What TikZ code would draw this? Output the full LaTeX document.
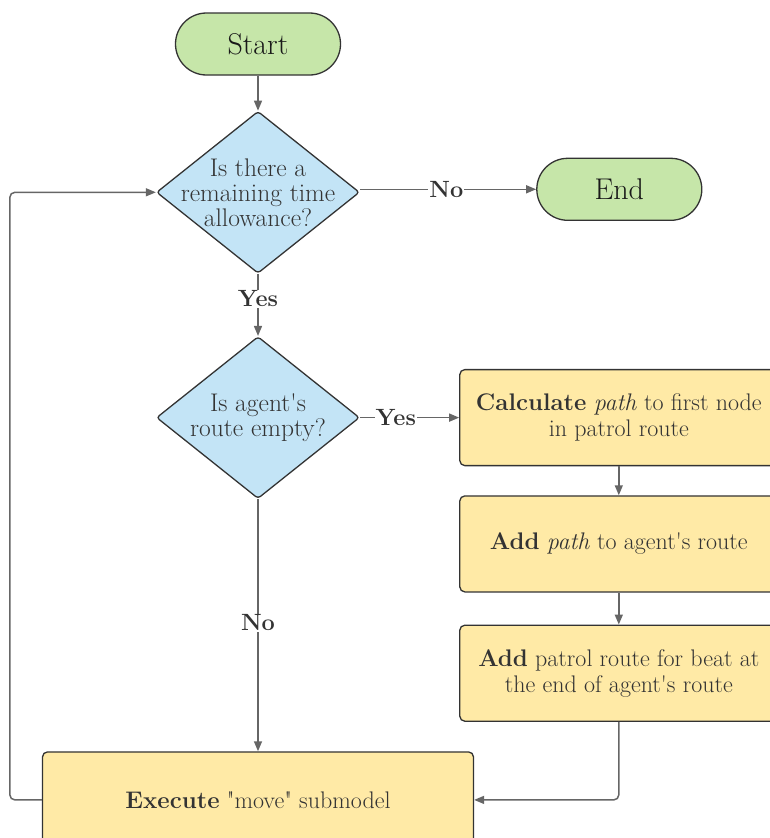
\documentclass[tikz,border=0pt]{standalone}
\usetikzlibrary{arrows.meta,positioning,shapes.geometric}
\definecolor{termgreen}{HTML}{C6E6A9}
\definecolor{qblue}{HTML}{C3E4F6}
\definecolor{procyellow}{HTML}{FFEAA6}
\definecolor{txtgray}{HTML}{333333}
\definecolor{edgegray}{HTML}{333333}
\definecolor{linegray}{HTML}{666666}
\newcommand{\apo}{\textquotesingle}

\begin{document}
\begin{tikzpicture}[
  x=1pt, y=1pt,
  every node/.style={align=center, text=txtgray,
                     font=\fontsize{24}{26}\selectfont},
  term/.style={draw=edgegray, fill=termgreen, line width=1.3pt,
               rounded corners=31pt, minimum width=165pt, minimum height=62pt,
               font=\fontsize{30}{30}\selectfont, text=black!90},
  decision/.style={diamond, draw=edgegray, fill=qblue, line width=1.3pt,
                   rounded corners=3pt, minimum width=203pt,
                   minimum height=162pt, inner sep=0pt},
  qtext/.style={font=\fontsize{25.5}{25}\selectfont},
  proc/.style={draw=edgegray, fill=procyellow, line width=1.3pt,
               rounded corners=5pt, minimum width=318pt, minimum height=96pt},
  lbl/.style={fill=white, inner sep=1pt,
              font=\bfseries\fontsize{23.5}{23.5}\selectfont},
  arr/.style={-{Triangle[length=10pt, width=8pt]}, draw=linegray, line width=1.5pt}
]
\useasboundingbox (0,0) rectangle (769,-838);

\node[term] (start) at (258,-44) {Start};
\node[decision] (q1) [below=35pt of start] {};
\node[qtext] (q1txt) at (q1) {Is there a\\ remaining time\\ allowance?};
\node[term] (stop) [right=176pt of q1, yshift=3pt] {End};
\node[decision] (q2) [below=62pt of q1] {};
\node[qtext] (q2txt) at (q2) {Is agent\apo s\\ route empty?};
\node[proc] (calc) [right=99pt of q2]
  {\textbf{Calculate} \textit{path} to first node\\ in patrol route};
\node[proc] (addpath) [below=29pt of calc]
  {\textbf{Add} \textit{path} to agent\apo s route};
\node[proc] (addpatrol) [below=32pt of addpath]
  {\textbf{Add} patrol route for beat at\\ the end of agent\apo s route};
\node[proc, minimum width=431pt] (exec) [below=252pt of q2]
  {\textbf{Execute} \textquotedbl move\textquotedbl{} submodel};

\draw[arr] (start) -- (q1);
\draw[arr] (q1.east |- stop) -- node[lbl, pos=0.49] {No} (stop);
\draw[arr] (q1) -- node[lbl, pos=0.4] {Yes} (q2);
\draw[arr] (q2) -- node[lbl, pos=0.36] {Yes} (calc);
\draw[arr] (calc) -- (addpath);
\draw[arr] (addpath) -- (addpatrol);
\draw[arr] (q2) -- node[lbl, pos=0.49] {No} (exec);
\draw[arr, rounded corners=5pt] (addpatrol.south) |- (exec.east);
\draw[arr, rounded corners=5pt] (exec.west) -- ++(-32pt,0) |- (q1.west);
\end{tikzpicture}
\end{document}
